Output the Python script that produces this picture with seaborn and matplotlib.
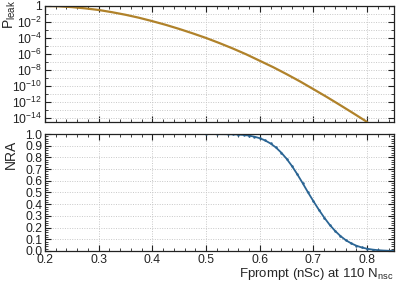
import matplotlib
matplotlib.use("Agg")
import matplotlib.pyplot as plt
import numpy as np
import pandas as pd
import seaborn as sns
from matplotlib.ticker import MultipleLocator, FixedLocator, FuncFormatter, NullFormatter

# ---- data ----
fprompt_leak = [0.200, 0.225, 0.250, 0.275, 0.300, 0.325, 0.350, 0.375, 0.400,
                0.425, 0.450, 0.475, 0.500, 0.525, 0.550, 0.575, 0.600, 0.625,
                0.650, 0.675, 0.700, 0.725, 0.750, 0.775, 0.800]
p_leak_log10 = [0.0, -0.04, -0.14, -0.30, -0.50, -0.78, -1.10, -1.47, -1.90,
                -2.36, -2.87, -3.42, -4.00, -4.64, -5.32, -6.05, -6.85,
                -7.65, -8.52, -9.43, -10.40, -11.38, -12.40, -13.44, -14.50]

fprompt_nra = [0.50, 0.52, 0.54, 0.55, 0.56, 0.57, 0.58, 0.59, 0.60, 0.61, 0.62,
               0.63, 0.64, 0.65, 0.66, 0.67, 0.68, 0.69, 0.70, 0.71, 0.72, 0.73,
               0.74, 0.75, 0.76, 0.77, 0.78, 0.79, 0.80, 0.81, 0.82, 0.83, 0.84,
               0.85]
nra = [1.000, 0.999, 0.998, 0.997, 0.995, 0.992, 0.986, 0.977, 0.964, 0.945,
       0.919, 0.885, 0.841, 0.788, 0.726, 0.655, 0.579, 0.500, 0.425, 0.353,
       0.286, 0.225, 0.173, 0.129, 0.093, 0.066, 0.045, 0.030, 0.019, 0.012,
       0.007, 0.004, 0.002, 0.001]

leak_color = "#b0822a"
nra_color = "#2b6594"

sns.set_theme(style="ticks")
plt.rcParams["font.family"] = ["Liberation Sans", "DejaVu Sans"]
plt.rcParams["mathtext.fontset"] = "custom"
plt.rcParams["mathtext.rm"] = "Liberation Sans"
plt.rcParams["mathtext.it"] = "Liberation Sans:italic"
plt.rcParams["axes.linewidth"] = 0.9
plt.rcParams["axes.edgecolor"] = "#222222"

df_leak = pd.DataFrame({"fprompt": fprompt_leak,
                        "pleak": [10.0 ** v for v in p_leak_log10]})
df_nra = pd.DataFrame({"fprompt": fprompt_nra, "nra": nra})

fig = plt.figure(figsize=(4.15, 2.83), dpi=100)
ax1 = fig.add_axes([0.1084, 0.5689, 0.8410, 0.4100])
ax2 = fig.add_axes([0.1084, 0.1131, 0.8410, 0.4134])

sns.lineplot(data=df_leak, x="fprompt", y="pleak", ax=ax1, color=leak_color,
             linewidth=1.6)
sns.lineplot(data=df_nra, x="fprompt", y="nra", ax=ax2, color=nra_color,
             linewidth=1.3, marker="o", markersize=1.8, markeredgewidth=0)

tick_fs = 8.8
grid_kw = dict(linestyle=(0, (1, 1.5)), color="#c8c8c8", linewidth=0.7)

# top panel
ax1.set_yscale("log")
ax1.set_xlim(0.2, 0.85)
ax1.set_ylim(10 ** -14.5, 1.0)
ax1.yaxis.set_major_locator(FixedLocator([10.0 ** -k for k in range(0, 15, 2)]))
ax1.yaxis.set_minor_locator(FixedLocator([10.0 ** -k for k in range(0, 15)]))
ax1.yaxis.set_major_formatter(FuncFormatter(
    lambda v, p: "1" if abs(np.log10(v)) < 1e-9 else r"$10^{%d}$" % round(np.log10(v))))
ax1.yaxis.set_minor_formatter(NullFormatter())
ax1.xaxis.set_major_locator(MultipleLocator(0.1))
ax1.xaxis.set_minor_locator(MultipleLocator(0.02))
ax1.set_xticklabels([])
ax1.set_xlabel("")
ax1.set_ylabel(r"P$_{\mathregular{leak}}$", loc="top", fontsize=10)
ax1.yaxis.set_label_coords(-0.078, 1.05)
ax1.yaxis.grid(True, which="both", **grid_kw)
ax1.xaxis.grid(True, which="major", **grid_kw)

# bottom panel
ax2.set_xlim(0.2, 0.85)
ax2.set_ylim(0.0, 1.0)
ax2.xaxis.set_major_locator(MultipleLocator(0.1))
ax2.xaxis.set_minor_locator(MultipleLocator(0.02))
ax2.yaxis.set_major_locator(MultipleLocator(0.1))
ax2.yaxis.set_minor_locator(MultipleLocator(0.02))
ax2.xaxis.set_major_formatter(FuncFormatter(lambda v, p: "%.1f" % v))
ax2.yaxis.set_major_formatter(FuncFormatter(lambda v, p: "%.1f" % v))
ax2.set_ylabel("NRA", loc="top", fontsize=10)
ax2.yaxis.set_label_coords(-0.078, 0.95)
ax2.set_xlabel(r"Fprompt (nSc) at 110 N$_{\mathregular{nsc}}$", loc="right",
               fontsize=9.5, labelpad=0)
ax2.grid(True, which="major", **grid_kw)

for ax in (ax1, ax2):
    ax.tick_params(which="both", direction="in", top=True, right=True,
                   labelsize=tick_fs, colors="#222222", pad=2)
    ax.tick_params(which="major", length=4, width=0.8)
    ax.tick_params(which="minor", length=2, width=0.6)
    for s in ax.spines.values():
        s.set_visible(True)
    ax.set_axisbelow(True)

fig.savefig("out.png", dpi=100)
